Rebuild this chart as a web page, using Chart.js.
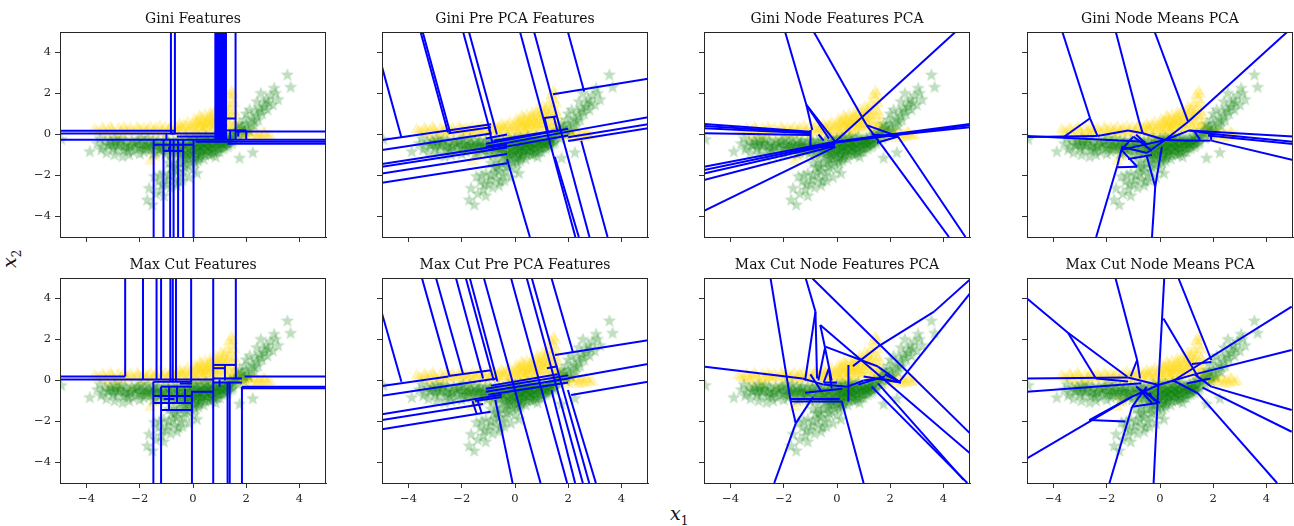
<!DOCTYPE html>
<html>
<head>
<meta charset="utf-8">
<script src="https://cdn.jsdelivr.net/npm/chart.js@4.4.1/dist/chart.umd.min.js"></script>
<style>
  body { margin: 0; background: #fff; width: 1294px; height: 526px; position: relative; overflow: hidden; }
  canvas { position: absolute; }
  .ax { position: absolute; font-family: "DejaVu Serif", serif; font-style: italic; font-size: 19px; color: #111; }
  .ax sub { font-size: 12px; font-style: normal; }
</style>
</head>
<body>
<div class="ax" id="xlab" style="left:670px; top:502px;">x<sub>1</sub></div>
<div class="ax" id="ylab" style="left:2px; top:246px; transform: rotate(-90deg);">x<sub>2</sub></div>
<script>
// shared scatter data (yellow triangles, green stars)
var yellowPts = [
  [-3.7,0.25],[-3.5,0.1],[-3.4,0.3],[-3.3,0.0],[-3.2,0.2],[-3.1,0.35],[-3.0,0.1],[-2.9,-0.05],[-2.8,0.3],[-2.7,0.15],
  [-2.6,0.35],[-2.5,0.0],[-2.45,0.2],[-2.35,0.3],[-2.2,0.1],[-2.1,0.35],[-2.0,-0.1],[-1.95,0.2],[-1.85,0.3],[-1.8,0.05],
  [-1.7,0.25],[-1.6,0.35],[-1.55,-0.05],[-1.5,0.15],[-1.4,0.3],[-1.3,0.05],[-1.25,0.4],[-1.15,0.2],[-1.05,0.35],[-1.0,-0.1],
  [-0.95,0.1],[-0.85,0.3],[-0.8,0.45],[-0.7,0.15],[-0.6,0.35],[-0.55,-0.1],[-0.5,0.5],
  [-0.4,0.2],[-0.35,0.45],[-0.3,0.0],[-0.2,0.6],[-0.15,0.3],[-0.1,-0.15],[0.0,0.5],[0.05,0.75],[0.1,0.2],[0.15,0.0],
  [0.2,0.6],[0.25,0.9],[0.3,0.35],[0.35,0.1],[0.4,0.7],[0.45,0.95],[0.5,0.45],[0.55,0.2],[0.6,0.8],[0.65,1.05],
  [0.7,0.55],[0.75,0.3],[0.8,1.0],[0.85,1.2],[0.9,0.7],[0.95,0.4],[1.0,1.1],[1.05,1.35],[1.1,0.8],[1.15,0.5],
  [1.2,1.25],[1.25,1.5],[1.3,0.95],[1.35,0.6],[1.4,1.35],[1.45,1.7],[1.5,1.95],[1.5,0.3],[1.55,1.1],[1.6,0.6],
  [1.7,0.2],[1.8,-0.05],[1.9,0.15],[2.0,-0.2],[2.1,0.05],[2.2,-0.1],[2.3,0.1],[2.4,-0.2],[2.5,0.0],[2.6,-0.15],
  [2.7,0.05],[2.8,-0.1],[2.9,-0.05],
  [-1.8,-0.6],[-1.5,-0.8],[-1.6,-1.3],[-1.45,-1.1],[-1.2,-0.9],[-1.0,-0.6],[-0.8,-1.0],[-0.6,-0.7],[-0.4,-0.5],
  [-0.2,-0.8],[0.3,-0.4],[0.6,-0.2],[-2.3,-0.4],[-2.8,-0.3],[-3.2,-0.2],
  [0.0,0.2],[0.2,0.35],[0.4,0.25],[0.6,0.45],[0.8,0.35],[1.0,0.5],[1.2,0.7],[0.3,0.55],[0.5,0.65],[0.7,0.75],
  [0.9,0.9],[1.1,1.0],[-0.2,0.1],[-0.5,0.2],[1.3,0.2],[1.4,0.4],
  [-3.6,0.15],[-3.35,0.2],[-3.05,0.25],[-2.75,0.05],[-2.55,0.2],[-2.3,0.15],[-2.05,0.25],[-1.75,0.15],[-1.45,0.2],[-1.2,0.1],
  [-0.9,0.25],[-0.65,0.25],[-0.45,0.35],[-0.25,0.4],[-0.05,0.35],[0.1,0.45],[0.15,0.65],[0.3,0.8],[0.35,0.5],[0.45,0.35],
  [0.55,0.6],[0.65,0.85],[0.75,0.6],[0.85,0.5],[0.95,0.85],[1.05,0.7],[1.15,1.15],[1.25,0.85],[1.35,1.15],[1.45,0.9],
  [1.55,0.45],[1.45,0.1],[1.2,0.35],[0.95,0.2],[0.7,0.1],[0.4,0.05],[0.1,0.0],[-0.25,-0.05],[1.8,0.1],[2.0,0.05],
  [2.2,0.1],[2.45,-0.05],[2.65,0.1],[1.65,0.35],[1.6,0.9],[1.55,1.5],[1.35,1.9],[1.45,2.1]
];
var greenPts = [
  [-3.88,-0.84],[-3.4,-0.6],[-3.5,-0.2],[-3.3,-0.35],[-3.2,-0.5],[-3.1,-0.3],[-3.0,-0.7],[-2.95,-1.0],[-2.9,-0.4],[-2.8,-0.55],
  [-2.7,-0.25],[-2.65,-1.08],[-2.6,-0.6],[-2.5,-0.45],[-2.45,-0.8],[-2.4,-1.0],[-2.3,-0.3],[-2.2,-0.55],[-2.15,-0.7],[-2.1,-0.4],
  [-2.0,-0.65],[-1.95,-0.2],[-1.9,-0.5],[-1.85,-0.85],[-1.8,-0.35],[-1.7,-0.6],[-1.65,-0.45],[-1.6,-0.75],[-1.5,-0.3],[-1.45,-0.55],
  [-1.4,-0.9],[-1.35,-0.4],[-1.3,-0.65],[-1.2,-0.5],[-1.15,-0.8],[-1.1,-0.3],[-1.0,-0.55],[-0.95,-0.75],[-0.9,-0.4],[-0.85,-1.0],
  [-0.8,-0.6],[-0.7,-0.45],[-0.65,-0.85],[-0.6,-0.3],[-0.5,-0.65],
  [-0.4,-0.9],[-0.35,-0.5],[-0.3,-1.2],[-0.2,-0.7],[-0.15,-0.35],[-0.1,-1.0],[0.0,-0.6],[0.05,-1.3],[0.1,-0.8],[0.15,-0.4],
  [0.2,-1.05],[0.25,-0.6],[0.3,-0.25],[0.35,-0.85],[0.4,-1.2],[0.45,-0.5],[0.5,-0.75],[0.55,-0.3],[0.6,-1.0],[0.65,-0.55],
  [0.7,-0.2],[0.75,-0.8],[0.8,-0.45],[0.85,-1.1],[0.9,-0.6],[0.95,-0.3],[1.0,-0.85],[1.05,-0.5],[1.1,-0.2],[1.15,-0.7],
  [1.2,-0.4],[1.25,-0.1],[1.3,-0.6],[1.35,-0.3],[1.4,0.0],[1.45,-0.45],[1.5,-0.15],[-0.25,-0.2],[0.0,-0.2],[0.2,-0.15],
  [0.5,-0.1],[0.8,-0.1],
  [-0.5,-1.4],[-0.3,-1.6],[-0.6,-1.8],[-0.45,-2.0],[-0.8,-1.6],[-0.7,-2.2],[-0.9,-2.0],[-1.0,-2.4],[-0.85,-2.6],[-1.1,-1.9],
  [-1.2,-2.7],[-1.3,-2.3],[-1.1,-3.0],[-1.4,-2.9],[-1.65,-2.63],[-1.72,-3.2],[-1.53,-3.44],[-0.2,-1.5],[0.0,-1.7],[-0.15,-2.1],
  [0.1,-1.4],[-0.6,-2.5],[-1.45,-2.05],[0.15,-1.9],
  [1.6,0.1],[1.7,-0.2],[1.8,0.3],[1.9,0.0],[2.0,0.5],[2.1,0.2],[2.2,0.8],[2.3,0.4],[2.35,1.1],[2.45,0.7],
  [2.5,1.3],[2.55,2.0],[2.6,1.0],[2.68,1.52],[2.75,1.7],[2.8,1.2],[2.9,1.9],[3.0,1.44],[3.05,2.25],[3.1,2.0],
  [3.2,1.7],[3.55,2.9],[3.67,2.3],[2.13,1.2],[1.94,0.71],[2.4,1.6],[2.0,1.0],[1.75,0.5],
  [1.75,-1.16],[2.25,-0.89],[-4.95,-0.25],
  [-3.6,-0.45],[-3.45,-0.75],[-3.25,-0.9],[-3.15,-0.55],[-3.05,-0.45],[-2.95,-0.2],[-2.85,-0.75],[-2.75,-0.45],[-2.55,-0.3],[-2.5,-0.7],
  [-2.35,-0.55],[-2.25,-0.85],[-2.05,-0.3],[-2.0,-0.95],[-1.9,-0.7],[-1.75,-0.5],[-1.7,-0.2],[-1.55,-0.6],[-1.5,-0.95],[-1.4,-0.45],
  [-1.3,-0.3],[-1.25,-0.75],[-1.1,-0.55],[-1.05,-0.95],[-0.95,-0.35],[-0.9,-0.6],[-0.8,-0.85],[-0.75,-0.3],[-0.7,-0.65],[-0.6,-0.5],
  [-0.55,-0.9],[-0.45,-0.35],[-0.4,-0.7],[-0.3,-0.55],[-0.25,-0.95],[-0.2,-0.45],[-0.1,-0.65],[-0.05,-0.35],[0.0,-0.9],[0.05,-0.5],
  [0.1,-0.25],[0.15,-0.7],[0.2,-0.45],[0.25,-0.95],[0.3,-0.6],[0.35,-0.4],[0.4,-0.75],[0.45,-0.2],[0.5,-0.55],[0.55,-0.9],
  [0.6,-0.4],[0.65,-0.7],[0.7,-0.45],[0.75,-0.3],[0.8,-0.65],[0.85,-0.35],[0.9,-0.85],[0.95,-0.5],[1.0,-0.3],[1.05,-0.7],
  [1.1,-0.45],[1.15,-0.25],[1.2,-0.6],[1.25,-0.35],[1.3,-0.15],[1.35,-0.5],[1.4,-0.25],[1.5,-0.35],[1.55,0.0],[1.65,0.05],
  [-0.2,-1.2],[0.1,-1.1],[0.3,-1.0],[-0.5,-1.1],[-0.7,-1.3],[-0.35,-1.4],[-0.6,-1.55],[-0.9,-1.4],[0.2,-1.3],[-0.1,-1.35],
  [1.7,0.2],[1.85,0.4],[2.05,0.3],[2.2,0.55],[2.4,0.9],[2.55,1.15],[2.3,0.65],[2.7,1.35],[2.85,1.55],[1.95,0.15],
  [-0.75,-1.9],[-0.95,-2.2],[-0.55,-2.3],[-1.15,-2.45],[-0.35,-1.8],[-1.25,-2.0],[-0.7,-1.65],[-0.4,-2.25],
  [-0.3,-0.8],[-0.1,-0.5],[0.05,-0.75],[0.2,-0.6],[0.35,-0.7],[0.5,-0.4],[0.6,-0.65],[0.75,-0.55],[0.9,-0.4],[1.05,-0.35],
  [-0.15,-0.9],[0.1,-0.95],[0.3,-0.8],[0.45,-1.0],[0.65,-0.85],[0.8,-0.9],[-0.45,-0.55],[-0.2,-1.05],[0.0,-1.15],[0.25,-1.15],
  [0.55,-0.6],[0.7,-1.0],[0.4,-0.45],[0.15,-0.55],[-0.05,-0.8],[1.15,-0.5],[1.3,-0.4],[0.95,-0.7],[-0.55,-0.75],[-0.35,-1.05],
  [-2.8,-0.4],[-2.4,-0.6],[-2.0,-0.5],[-1.6,-0.55],[-1.2,-0.65],[-3.0,-0.55],[-2.6,-0.75],[-2.2,-0.4],[-1.8,-0.7],[-1.35,-0.55]
];
var tickValues = [-4, -2, 0, 2, 4];
var titles = ['Gini Features', 'Gini Pre PCA Features', 'Gini Node Features PCA', 'Gini Node Means PCA',
              'Max Cut Features', 'Max Cut Pre PCA Features', 'Max Cut Node Features PCA', 'Max Cut Node Means PCA'];

// split boundaries, each [x1, y1, x2, y2]
var giniFeatures = [
  [-5,0.18,-0.66,0.18],[-5,0.05,-0.66,0.05],[-5,-0.25,5,-0.25],[1.6,0.15,5,0.15],[0.1,-0.35,5,-0.35],[1.3,-0.45,5,-0.45],
  [-0.83,5,-0.83,0.05],[-0.68,5,-0.68,0.05],
  [0.84,5,0.84,-0.25],[0.88,5,0.88,-0.25],[0.92,5,0.92,-0.25],[0.96,5,0.96,-0.25],[1.0,5,1.0,-0.25],[1.04,5,1.04,-0.25],
  [1.08,5,1.08,-0.25],[1.12,5,1.12,-0.25],[1.16,5,1.16,-0.25],[1.2,5,1.2,-0.25],[1.24,5,1.24,-0.25],
  [1.6,5,1.6,-0.25],[1.26,0.78,1.6,0.78],[1.26,0.2,2.0,0.2],[2.0,0.2,2.0,-0.25],
  [-1.48,-0.25,-1.48,-5],[-1.11,-0.25,-1.11,-5],[-0.86,-0.25,-0.86,-5],[-0.73,-0.25,-0.73,-5],[-0.56,-0.25,-0.56,-5],
  [-0.37,-0.25,-0.37,-5],[0.02,-0.25,0.02,-5],
  [-1.48,-0.5,0.02,-0.5],[-1.11,-0.8,-0.37,-0.8],[-0.86,0.05,0.84,0.05],[-0.6,-0.1,1.26,-0.1],[-1.0,0.05,-1.0,-0.25],
  [-0.9,-0.6,-0.9,-0.8],[1.4,0.2,1.4,-0.25],[1.7,0.2,1.7,-0.1]
];
var giniPre = [
  [-5.0,3.3,-4.27,-0.15],[-3.55,5,-2.52,0.1],[-3.47,5,-2.44,0.1],[-1.95,5,-0.9,0.0],[-1.73,5,-0.68,0.0],
  [0.19,5,2.27,-5],[0.72,5,2.8,-5],[1.99,5,2.6,2.1],[-0.3,-1.2,0.56,-5],[1.5,-1.1,2.4,-5],[2.49,-0.3,3.48,-5],
  [-1.0,0.4,-0.85,-0.4],[1.1,0.85,1.25,0.1],[1.45,0.9,1.6,0.15],
  [-5,-0.27,-0.9,0.5],[-5,-0.76,-0.9,0.05],[-5,-1.44,-0.3,-0.5],[-5,-1.57,-0.3,-0.63],[-5,-1.9,-0.3,-0.95],[-5,-2.35,-0.3,-1.4],
  [1.43,1.96,5,2.72],[1.99,0.14,5,0.84],[2.0,-0.13,5,0.5],[2.0,-0.32,5,0.3],
  [-1.1,-0.6,2.0,0.14],[-1.1,-0.45,2.0,0.28],[-1.0,-0.75,2.0,-0.05],[-0.8,-0.3,1.5,0.2],[-1.1,-0.2,-0.3,0.0],
  [1.1,0.8,1.55,0.88],[-2.5,0.06,-0.9,0.35]
];
var giniNodeFeat = [
  [-1.95,5,-1.15,1.44],[-1.15,1.44,-0.93,0.22],[-1.15,1.44,-0.07,-0.35],[-1.15,1.44,-0.3,-0.2],
  [-0.87,5,1.11,0.46],[1.11,0.46,2.3,-0.1],[1.67,-0.51,4.21,-5],[2.29,-0.1,4.83,-5],[-0.07,-0.35,4.45,5],
  [-5,0.51,-0.99,0.14],[-5,0.41,-0.99,0.09],[-5,0.3,-0.99,0.06],[-5,0.06,-0.99,-0.02],
  [-5,-1.57,-0.07,-0.35],[-5,-1.73,-0.07,-0.4],[-5,-1.9,-0.07,-0.45],[-5,-2.22,-0.07,-0.55],[-5,-3.72,-0.07,-0.6],
  [-0.07,-0.35,5,0.51],[-0.07,-0.4,5,0.45],[0.9,-0.2,5,0.35],
  [-0.99,0.22,-1.0,-0.6],[-1.0,-0.6,-0.07,-0.6],[-0.7,0.0,-0.5,-0.3],
  [1.11,0.46,1.67,-0.51],[1.3,0.0,2.29,-0.1],[1.5,-0.4,2.3,-0.1]
];
var giniNodeMeans = [
  [-3.67,5,-2.63,0.79],[-2.63,0.79,-2.35,-0.07],[-2.63,0.79,-3.59,-0.1],[-1.66,5,-0.8,0.71],[-0.8,0.71,-0.65,0.06],
  [-0.2,5,1.06,0.62],[1.06,0.62,0.19,-0.27],[1.06,0.62,4.78,5],
  [-5,-0.07,-0.55,-0.35],[-5,-0.12,-2.35,-0.07],
  [1.1,0.2,5,-0.1],[1.8,0.05,5,-0.35],[1.8,-0.05,5,-0.46],[1.93,-0.3,5,-1.24],
  [-2.4,-5,-1.6,-1.5],[-1.6,-1.5,-1.42,-0.6],[-1.6,-1.6,-0.86,-1.57],[-0.86,-1.57,-1.45,-0.75],
  [-0.3,-5,-0.18,-2.55],[-0.18,-2.55,-0.49,-1.08],[-0.18,-2.55,0.07,-0.6],
  [-2.35,-0.07,-1.2,0.2],[-1.2,0.2,-0.65,0.06],[-0.65,0.06,0.19,-0.27],[-1.45,-0.75,0.19,-0.27],[-1.45,-0.6,-0.5,-0.9],
  [-1.0,-0.1,-0.3,-0.8],[-0.5,-0.9,0.19,-0.27],[-1.45,-0.75,-1.0,-0.1],[0.19,-0.27,1.1,0.2],[1.1,0.2,1.9,0.05],
  [1.1,-0.3,1.9,-0.3],[0.19,-0.27,1.1,-0.3],[1.9,0.05,1.93,-0.3],[1.3,0.15,1.5,-0.25],[-0.9,0.0,-0.5,-0.5],[-1.2,-1.2,-0.3,-1.0]
];
var maxFeatures = [
  [-2.55,5,-2.55,0.2],[-1.88,5,-1.88,0.05],[-1.37,5,-1.37,0.05],[-1.2,5,-1.2,0.05],[-0.85,5,-0.85,-0.05],
  [-0.76,5,-0.76,-0.05],[-0.64,5,-0.64,-0.05],[-0.07,5,-0.07,-0.1],[0.76,5,0.76,-0.25],[1.61,5,1.61,0.1],
  [-5,0.2,-2.55,0.2],[-5,0.05,0.76,0.05],[1.94,0.2,5,0.2],[1.84,-0.3,5,-0.3],[1.84,-0.38,5,-0.38],
  [0.76,0.76,1.61,0.76],[0.76,0.6,1.2,0.6],[1.2,0.76,1.2,0.0],
  [-1.49,-0.06,-1.49,-5],[-1.2,-0.3,-1.2,-5],[-0.04,-0.5,-0.04,-5],[0.76,-0.25,0.76,-5],[1.3,-0.1,1.3,-5],
  [1.38,-0.1,1.38,-5],[1.84,-0.3,1.84,-5],
  [-1.2,-0.3,-0.04,-0.3],[-1.49,-1.1,-0.04,-1.1],[-1.2,-1.44,-0.04,-1.44],[-0.9,-0.3,-0.9,-1.44],[-0.6,-0.3,-0.6,-1.1],
  [-1.49,-0.75,-0.04,-0.75],[-0.04,-0.55,0.76,-0.55],[0.76,-0.1,1.84,-0.1],[0.76,0.1,1.84,0.1],[1.0,0.05,1.0,-0.3],
  [-0.5,-0.15,-0.04,-0.15],[-1.1,-0.9,-0.7,-0.9],[-0.3,-0.4,-0.3,-1.1],[-1.49,-0.06,-0.07,-0.06]
];
var maxPre = [
  [-5,3.27,-4.27,-0.06],[-3.5,5,-2.47,0.25],[-2.97,5,-1.95,0.3],[-2.22,5,-1.2,0.1],[-1.85,5,-0.8,0.0],[-1.7,5,-0.66,-0.05],
  [1.37,5,2.17,1.41],[-1.17,5,0.96,-5],[-0.15,5,1.96,-5],[0.44,5,2.55,-5],[0.63,5,2.79,-5],
  [-0.74,-0.95,-0.09,-5],[1.37,-0.46,2.26,-5],[1.99,-0.46,3.04,-5],
  [-1.6,-1.0,-1.45,-1.6],[-1.4,-1.0,-1.25,-1.6],
  [-5,-0.27,-2.5,0.2],[-2.5,0.22,-0.9,0.5],[-5,-0.74,-0.7,0.1],[-5,-1.65,-0.5,-0.7],[-5,-1.93,-1.2,-1.15],[-5,-2.38,-0.92,-1.52],
  [1.5,1.24,5,1.97],[1.99,0.11,5,0.8],[2.11,-0.71,5,-0.06],
  [-1.1,-0.55,2.0,0.1],[-1.1,-0.4,2.0,0.25],[-1.0,-0.7,2.0,-0.1],[-0.9,-0.25,1.6,0.3],[1.2,0.6,1.6,0.7],[-1.5,-1.0,-0.5,-0.8]
];
var maxNodeFeat = [
  [-4.96,0.67,-1.3,0.1],[-2.5,5,-1.74,-1.03],[-1.74,-1.03,-1.55,-2.09],[-1.55,-2.09,-2.36,-5],[-1.55,-2.09,-0.9,-0.8],
  [-1.18,5,-0.81,3.36],[-0.81,3.36,-1.2,0.0],[-0.81,3.36,-0.75,0.1],[-0.94,5,5,-2.58],[-0.63,2.71,5,-3.55],
  [-0.63,2.71,-0.45,1.6],[-0.45,1.6,-0.7,0.0],[-0.45,1.6,-0.2,0.0],[-0.44,1.65,1.54,0.68],
  [1.54,1.65,3.65,3.36],[3.65,3.36,5,4.93],[1.54,1.65,0.6,0.7],[5,4.25,2.35,-0.06],
  [1.54,-0.14,4.76,-4.85],[1.3,-0.3,4.9,-5],[0.18,-1.03,1.0,-5],[-1.74,-1.03,0.18,-1.03],[-1.74,-0.9,0.1,-0.9],
  [0.43,0.76,0.43,-1.03],
  [-1.3,0.1,-0.5,-0.2],[-0.5,-0.2,0.4,-0.3],[0.4,-0.3,1.0,0.0],[1.0,0.0,1.6,0.1],[1.6,0.1,2.4,-0.1],
  [-1.2,-0.6,0.2,-0.4],[0.8,-0.2,1.8,0.2],[-1.0,0.3,-0.6,-0.5],[-0.3,0.5,-0.2,-0.4],[1.0,0.2,2.4,-0.1],
  [1.8,0.3,2.4,-0.1],[-0.3,0.6,-0.5,-0.1],[-0.5,-0.1,0.0,-0.1],[1.54,0.68,2.35,-0.06]
];
var maxNodeMeans = [
  [-5.01,4.01,-3.46,2.33],[-3.46,2.33,-2.41,0.1],[-3.46,2.33,-1.23,0.18],[-1.67,4.98,-0.86,1.0],[-0.86,1.0,-1.1,0.2],
  [-0.86,1.0,-0.75,0.1],[0.16,5,-0.06,-0.22],[-0.06,-0.22,-0.24,-5],[0.13,3.03,1.43,0.18],[0.69,5,1.93,1.0],
  [1.93,0.9,1.2,0.8],[4.95,3.6,0.44,-0.06],[4.95,1.49,1.3,0.3],[1.93,-0.3,4.95,-1.44],[1.6,-0.35,4.95,-2.5],
  [1.43,-0.63,4.4,-5],[-5,0.1,-1.2,0.15],[-5,-0.55,-0.7,-0.14],[-5,-3.8,-1.05,-0.79],[-2.66,-1.93,-1.3,-2.0],
  [-1.9,-5,-1.05,-1.28],[-1.05,-1.28,-0.1,-1.1],
  [-1.2,0.15,-0.06,-0.22],[-1.05,-0.79,-0.06,-0.22],[-1.05,-1.28,-0.5,-0.3],[-0.9,-0.3,0.0,-1.1],[-0.06,-0.22,0.5,0.0],
  [0.5,0.0,1.3,0.3],[1.3,0.3,1.93,-0.3],[0.5,0.0,1.43,-0.63],[1.0,-0.15,1.9,0.1],[-2.41,0.1,-1.2,-0.05],
  [-0.6,-0.5,-0.1,-1.05],[-0.4,-0.6,-0.2,-1.0],[-0.8,-0.4,-0.3,-1.1],[-2.66,-1.93,-1.05,-0.79]
];
var panelSegments = [giniFeatures, giniPre, giniNodeFeat, giniNodeMeans, maxFeatures, maxPre, maxNodeFeat, maxNodeMeans];

// layout of the 2 x 4 grid (plot area boxes)
var plotLefts = [60, 382, 704, 1027];
var plotTops = [32, 278];
var plotW = 269, plotH = 205;
var padL = 45, padT = 28, padR = 4, padB = 26;

function starImage(size, color) {
  var c = document.createElement('canvas');
  c.width = c.height = size;
  var g = c.getContext('2d');
  var R = size / 2, r = R * 0.42;
  g.beginPath();
  for (var i = 0; i < 10; i++) {
    var a = -Math.PI / 2 + i * Math.PI / 5;
    var rr = i % 2 ? r : R;
    g.lineTo(R + rr * Math.cos(a), R + rr * Math.sin(a));
  }
  g.closePath();
  g.fillStyle = color;
  g.fill();
  return c;
}
var star = starImage(14, 'rgba(0,128,0,0.25)');

function fmt(v) { return v < 0 ? '\u2212' + Math.abs(v) : String(v); }

var frameTitle = {
  id: 'frameTitle',
  afterDraw: function (chart, args, opts) {
    var a = chart.chartArea, g = chart.ctx;
    g.save();
    g.strokeStyle = '#262626';
    g.lineWidth = 1;
    g.strokeRect(a.left + 0.5, a.top + 0.5, a.right - a.left - 1, a.bottom - a.top);
    g.fillStyle = '#111';
    g.font = '14px "DejaVu Serif"';
    g.textAlign = 'center';
    g.textBaseline = 'alphabetic';
    g.fillText(opts.text, (a.left + a.right) / 2, a.top - 9);
    g.restore();
  }
};

var tickFont = { family: 'DejaVu Serif', size: 11.5 };

for (var p = 0; p < 8; p++) {
  var row = Math.floor(p / 4), col = p % 4;
  var cv = document.createElement('canvas');
  cv.width = plotW + padL + padR;
  cv.height = plotH + padT + padB;
  cv.style.left = (plotLefts[col] - padL) + 'px';
  cv.style.top = (plotTops[row] - padT) + 'px';
  document.body.appendChild(cv);

  var datasets = panelSegments[p].map(function (s) {
    return {
      data: [{ x: s[0], y: s[1] }, { x: s[2], y: s[3] }],
      showLine: true, borderColor: '#0000ff', borderWidth: 2, pointRadius: 0, fill: false
    };
  });
  datasets.push({
    data: greenPts.map(function (d) { return { x: d[0], y: d[1] }; }),
    pointStyle: star, pointRadius: 6
  });
  datasets.push({
    data: yellowPts.map(function (d) { return { x: d[0], y: d[1] }; }),
    pointStyle: 'triangle', pointRadius: 7, backgroundColor: 'rgba(255,215,0,0.25)', borderWidth: 0
  });

  (function (row, col) {
    new Chart(cv, {
      type: 'scatter',
      data: { datasets: datasets },
      options: {
        responsive: false, animation: false, devicePixelRatio: 1,
        layout: { padding: { left: 0, top: padT, right: padR, bottom: 0 } },
        plugins: { legend: { display: false }, tooltip: { enabled: false }, frameTitle: { text: titles[p] } },
        scales: {
          x: {
            type: 'linear', min: -5, max: 5,
            afterBuildTicks: function (s) { s.ticks = tickValues.map(function (v) { return { value: v }; }); },
            afterFit: function (s) { s.height = padB; },
            ticks: { font: tickFont, color: '#222', padding: 4, maxRotation: 0,
                     callback: function (v) { return row === 1 ? fmt(v) : ''; } },
            grid: { drawOnChartArea: false, drawTicks: true, tickLength: 5, color: '#333' },
            border: { display: true, color: '#262626' }
          },
          y: {
            type: 'linear', min: -5, max: 5,
            afterBuildTicks: function (s) { s.ticks = tickValues.map(function (v) { return { value: v }; }); },
            afterFit: function (s) { s.width = padL; },
            ticks: { font: tickFont, color: '#222', padding: 4,
                     callback: function (v) { return col === 0 ? fmt(v) : ''; } },
            grid: { drawOnChartArea: false, drawTicks: true, tickLength: 5, color: '#333' },
            border: { display: true, color: '#262626' }
          }
        }
      },
      plugins: [frameTitle]
    });
  })(row, col);
}
</script>
</body>
</html>
